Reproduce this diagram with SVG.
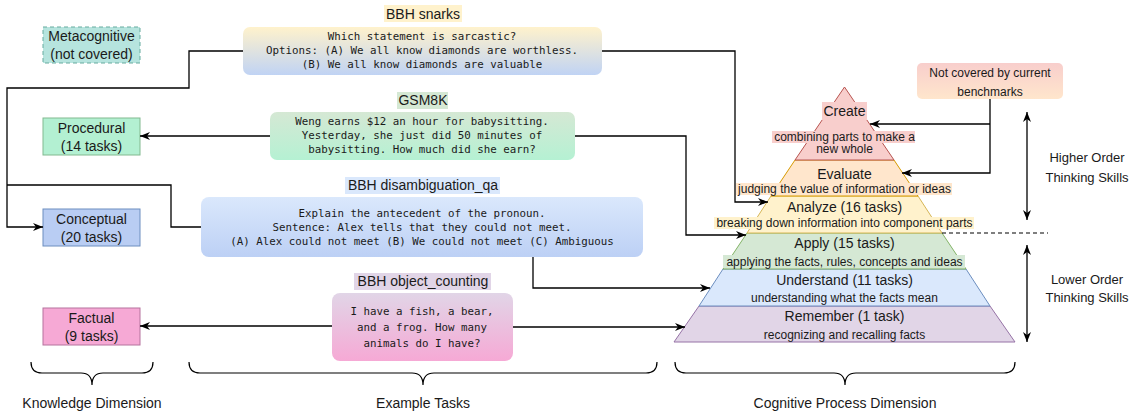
<svg xmlns="http://www.w3.org/2000/svg" width="1134" height="414" viewBox="0 0 1134 414">
  <defs>
    <marker id="arrow" viewBox="0 0 10 8" refX="10" refY="4" markerWidth="10" markerHeight="8" markerUnits="userSpaceOnUse" orient="auto-start-reverse">
      <path d="M0,0 L10,4 L0,8 L3,4 z" fill="#000"/>
    </marker>
    <linearGradient id="gSnarks" x1="0" y1="0" x2="0" y2="1">
      <stop offset="0" stop-color="#fff2cc"/>
      <stop offset="1" stop-color="#c0d3f4"/>
    </linearGradient>
    <linearGradient id="gGsm" x1="0" y1="0" x2="0" y2="1">
      <stop offset="0" stop-color="#d5e8d4"/>
      <stop offset="1" stop-color="#b5f1d3"/>
    </linearGradient>
    <linearGradient id="gDisamb" x1="0" y1="0" x2="0" y2="1">
      <stop offset="0" stop-color="#dae8fc"/>
      <stop offset="1" stop-color="#bcd0f5"/>
    </linearGradient>
    <linearGradient id="gCount" x1="0" y1="0" x2="0" y2="1">
      <stop offset="0" stop-color="#e1d5e7"/>
      <stop offset="1" stop-color="#f6a9d5"/>
    </linearGradient>
    <linearGradient id="gNotCov" x1="0" y1="0" x2="0" y2="1">
      <stop offset="0" stop-color="#f8cecc"/>
      <stop offset="1" stop-color="#ffe6cc"/>
    </linearGradient>
  </defs>
  <style>
    text { font-family: "Liberation Sans", Arial, sans-serif; fill: #1a1a1a; text-anchor: middle; dominant-baseline: central; }
    .node { font-size: 14px; }
    .mono { font-family: "DejaVu Sans Mono", "Liberation Mono", monospace; font-size: 10.8px; }
    .title { font-size: 14px; }
    .lvl { font-size: 14px; }
    .desc { font-size: 12px; }
    .side { font-size: 13px; }
    .dim { font-size: 14px; }
    .small { font-size: 12px; }
    .wire { fill: none; stroke: #000; stroke-width: 1.3; }
    .brace { fill: none; stroke: #000; stroke-width: 1.2; }
  </style>

  <!-- knowledge dimension nodes -->
  <g id="metacognitive">
    <rect x="43" y="27" width="97" height="36" fill="#b6e4de" stroke="#67ab9f" stroke-dasharray="4 3"/>
    <text class="node" x="91.5" y="36">Metacognitive</text>
    <text class="node" x="91.5" y="54">(not covered)</text>
  </g>
  <g id="procedural">
    <rect x="43" y="118" width="97" height="37" fill="#b3f0d2" stroke="#82b98f"/>
    <text class="node" x="91.5" y="128">Procedural</text>
    <text class="node" x="91.5" y="146">(14 tasks)</text>
  </g>
  <g id="conceptual">
    <rect x="43" y="209" width="97" height="37" fill="#b9cdf3" stroke="#6c8ebf"/>
    <text class="node" x="91.5" y="219">Conceptual</text>
    <text class="node" x="91.5" y="237">(20 tasks)</text>
  </g>
  <g id="factual">
    <rect x="43" y="308" width="97" height="37" fill="#f6a9d5" stroke="#b5739d"/>
    <text class="node" x="91.5" y="318">Factual</text>
    <text class="node" x="91.5" y="336">(9 tasks)</text>
  </g>

  <!-- example task boxes -->
  <g id="snarks">
    <rect x="384" y="5" width="78" height="17" fill="#fff2cc"/>
    <text class="title" x="423" y="14">BBH snarks</text>
    <rect x="243" y="27" width="359" height="48" rx="7" fill="url(#gSnarks)"/>
    <text class="mono" x="422" y="36">Which statement is sarcastic?</text>
    <text class="mono" x="422" y="50">Options: (A) We all know diamonds are worthless.</text>
    <text class="mono" x="422" y="64">(B) We all know diamonds are valuable</text>
  </g>
  <g id="gsm8k">
    <rect x="397" y="92" width="51" height="17" fill="#d5e8d4"/>
    <text class="title" x="423" y="100">GSM8K</text>
    <rect x="270" y="112" width="305" height="48" rx="7" fill="url(#gGsm)"/>
    <text class="mono" x="422" y="121">Weng earns $12 an hour for babysitting.</text>
    <text class="mono" x="422" y="135">Yesterday, she just did 50 minutes of</text>
    <text class="mono" x="422" y="149">babysitting. How much did she earn?</text>
  </g>
  <g id="disambiguation">
    <rect x="345" y="177" width="155" height="17" fill="#dae8fc"/>
    <text class="title" x="423" y="185">BBH disambiguation_qa</text>
    <rect x="201" y="197" width="442" height="60" rx="8" fill="url(#gDisamb)"/>
    <text class="mono" x="422" y="213">Explain the antecedent of the pronoun.</text>
    <text class="mono" x="422" y="227">Sentence: Alex tells that they could not meet.</text>
    <text class="mono" x="422" y="241">(A) Alex could not meet (B) We could not meet (C) Ambiguous</text>
  </g>
  <g id="object-counting">
    <rect x="354" y="273" width="137" height="17" fill="#e1d5e7"/>
    <text class="title" x="423" y="281">BBH object_counting</text>
    <rect x="332" y="293" width="181" height="68" rx="8" fill="url(#gCount)"/>
    <text class="mono" x="422" y="311">I have a fish, a bear,</text>
    <text class="mono" x="422" y="327">and a frog. How many</text>
    <text class="mono" x="422" y="343">animals do I have?</text>
  </g>

  <!-- cognitive process pyramid -->
  <g id="pyramid">
    <polygon points="674,342 699,306 990,306 1015,342" fill="#e1d5e7" stroke="#9673a6"/>
    <polygon points="699,306 723,269 966,269 990,306" fill="#dae8fc" stroke="#6c8ebf"/>
    <polygon points="723,269 747,233 942,233 966,269" fill="#d5e8d4" stroke="#82b366"/>
    <polygon points="747,233 771,196 918,196 942,233" fill="#fff2cc" stroke="#d6b656"/>
    <polygon points="771,196 795,160 894,160 918,196" fill="#ffe6cc" stroke="#d79b00"/>
    <polygon points="795,160 844.5,87 894,160" fill="#f8cecc" stroke="#b85450"/>
  </g>
  <g id="create">
    <rect x="822" y="102" width="45" height="18" fill="#f8cecc"/>
    <text class="lvl" x="844.5" y="111">Create</text>
    <rect x="772" y="131" width="143" height="12" fill="#f8cecc"/>
    <rect x="815" y="143" width="58" height="12" fill="#f8cecc"/>
    <text class="desc" x="844.5" y="137">combining parts to make a</text>
    <text class="desc" x="844.5" y="149">new whole</text>
  </g>
  <g id="evaluate">
    <text class="lvl" x="844.5" y="174">Evaluate</text>
    <rect x="736" y="183" width="216" height="12" fill="#ffe6cc"/>
    <text class="desc" x="844.5" y="189">judging the value of information or ideas</text>
  </g>
  <g id="analyze">
    <text class="lvl" x="844.5" y="207">Analyze (16 tasks)</text>
    <rect x="714" y="217" width="260" height="12" fill="#fff2cc"/>
    <text class="desc" x="844.5" y="223">breaking down information into component parts</text>
  </g>
  <g id="apply">
    <text class="lvl" x="844.5" y="243">Apply (15 tasks)</text>
    <rect x="723" y="255" width="242" height="13" fill="#d5e8d4"/>
    <text class="desc" x="844.5" y="261.5">applying the facts, rules, concepts and ideas</text>
  </g>
  <g id="understand">
    <text class="lvl" x="844.5" y="280">Understand (11 tasks)</text>
    <text class="desc" x="844.5" y="298">understanding what the facts mean</text>
  </g>
  <g id="remember">
    <text class="lvl" x="844.5" y="316">Remember (1 task)</text>
    <text class="desc" x="844.5" y="335">recognizing and recalling facts</text>
  </g>

  <g id="not-covered">
    <rect x="917" y="63" width="146" height="36" rx="5" fill="url(#gNotCov)"/>
    <text class="small" x="990" y="73">Not covered by current</text>
    <text class="small" x="990" y="92">benchmarks</text>
  </g>

  <g id="thinking-skills">
    <line class="wire" x1="1027" y1="112" x2="1027" y2="220" marker-start="url(#arrow)" marker-end="url(#arrow)"/>
    <line class="wire" x1="1027" y1="245" x2="1027" y2="342" marker-start="url(#arrow)" marker-end="url(#arrow)"/>
    <line x1="942" y1="233" x2="1048" y2="233" stroke="#000" stroke-width="1.2" stroke-dasharray="4 3"/>
    <text class="side" x="1087" y="157">Higher Order</text>
    <text class="side" x="1087" y="177">Thinking Skills</text>
    <text class="side" x="1087" y="279">Lower Order</text>
    <text class="side" x="1087" y="297">Thinking Skills</text>
  </g>

  <!-- connectors -->
  <g id="connectors">
    <path class="wire" d="M243,51 H189 V88 H7 V227 H43" marker-end="url(#arrow)"/>
    <path class="wire" d="M201,227 H171 V185 H7"/>
    <path class="wire" d="M270,136 H140" marker-end="url(#arrow)"/>
    <path class="wire" d="M332,326 H140" marker-end="url(#arrow)"/>
    <path class="wire" d="M602,51 H735 V202 H768" marker-end="url(#arrow)"/>
    <path class="wire" d="M575,136 H686 V235 H746" marker-end="url(#arrow)"/>
    <path class="wire" d="M533,257 V288 H710" marker-end="url(#arrow)"/>
    <path class="wire" d="M513,327 H685" marker-end="url(#arrow)"/>
    <path class="wire" d="M990,99 V173 H902" marker-end="url(#arrow)"/>
    <path class="wire" d="M990,124 H870" marker-end="url(#arrow)"/>
  </g>

  <!-- dimension braces -->
  <g id="knowledge-dimension">
    <path class="brace" d="M31,362 Q31,373 42,373 H81 Q92,373 92,385 Q92,373 103,373 H142 Q153,373 153,362"/>
    <text class="dim" x="92" y="403">Knowledge Dimension</text>
  </g>
  <g id="example-tasks">
    <path class="brace" d="M189,362 Q189,373 200,373 H412 Q423,373 423,385 Q423,373 434,373 H646 Q657,373 657,362"/>
    <text class="dim" x="423" y="403">Example Tasks</text>
  </g>
  <g id="cognitive-dimension">
    <path class="brace" d="M675,362 Q675,373 686,373 H834 Q845,373 845,385 Q845,373 856,373 H1004 Q1015,373 1015,362"/>
    <text class="dim" x="845" y="403">Cognitive Process Dimension</text>
  </g>
</svg>
